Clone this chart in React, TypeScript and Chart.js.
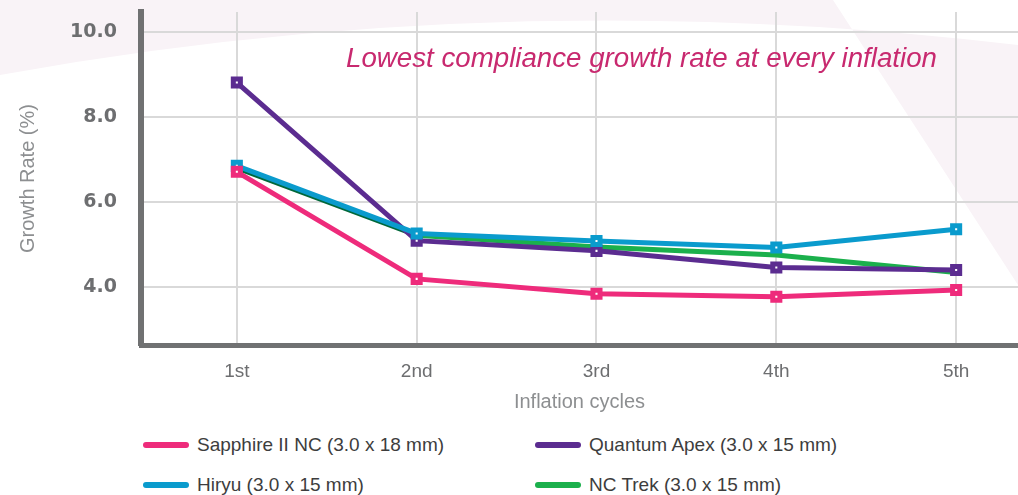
import React, { useEffect, useRef } from "react";
import { Chart, registerables } from "chart.js";

Chart.register(...registerables);

// ---- data ----
const cycles = [1, 2, 3, 4, 5];
const cycleLabels = ["1st", "2nd", "3rd", "4th", "5th"];
const yTickValues = [4, 6, 8, 10];
const yTickLabels = ["4.0", "6.0", "8.0", "10.0"];

const sapphire = [6.71, 4.19, 3.84, 3.77, 3.93];
const quantumApex = [8.81, 5.09, 4.85, 4.46, 4.4];
const hiryu = [6.85, 5.26, 5.08, 4.93, 5.36];
const ncTrek = [6.8, 5.22, 4.94, 4.75, 4.34];

const seriesNames = [
  "Sapphire II NC (3.0 x 18 mm)",
  "Quantum Apex (3.0 x 15 mm)",
  "Hiryu (3.0 x 15 mm)",
  "NC Trek (3.0 x 15 mm)",
];

const annotationText = "Lowest compliance growth rate at every inflation";
const xTitle = "Inflation cycles";
const yTitle = "Growth Rate (%)";

// ---- styles ----
const PINK = "#ee2b7b";
const PURPLE = "#5b2c90";
const BLUE = "#0a9bcd";
const GREEN = "#1bb04c";
const GREEN_DARK = "#00683a";
const AXIS = "#707172";
const TICK = "#6d6e70";
const TITLE = "#8d8f91";
const GRID = "#d9d9d9";
const SANS = '"Liberation Sans", Arial, sans-serif';

const W = 1018;
const H = 495;
const CH = 420;

const backgroundPlugin = {
  id: "bgShapes",
  beforeDraw(chart: any) {
    const ctx = chart.ctx;
    ctx.save();
    ctx.fillStyle = "#f9f3f7";
    ctx.beginPath();
    ctx.moveTo(0, 0);
    ctx.lineTo(0, 75);
    ctx.quadraticCurveTo(500, -16, 1018, 45);
    ctx.lineTo(1018, 0);
    ctx.closePath();
    ctx.moveTo(833, 0);
    ctx.lineTo(1018, 0);
    ctx.lineTo(1018, 285);
    ctx.closePath();
    ctx.fill("evenodd");
    ctx.restore();
  },
};

const annotationPlugin = {
  id: "annotationText",
  afterDraw(chart: any) {
    const ctx = chart.ctx;
    ctx.save();
    ctx.font = `italic 27.7px ${SANS}`;
    ctx.fillStyle = "#c8296f";
    ctx.textAlign = "right";
    ctx.textBaseline = "alphabetic";
    ctx.fillText(annotationText, 937, 67);
    ctx.restore();
  },
};

function pts(values: number[]) {
  return values.map((v, i) => ({ x: cycles[i], y: v }));
}

const markerStyle = (color: string) => ({
  borderColor: color,
  backgroundColor: color,
  borderWidth: 5,
  pointStyle: "rect" as const,
  pointRadius: 5,
  pointBorderWidth: 5,
  pointBackgroundColor: "#ffffff",
  pointBorderColor: color,
  tension: 0,
});

const zeroPadding = (s: any) => {
  s.paddingTop = 0;
  s.paddingBottom = 0;
  s.paddingLeft = 0;
  s.paddingRight = 0;
};

export default function App() {
  const canvasRef = useRef<HTMLCanvasElement | null>(null);

  useEffect(() => {
    document.body.style.margin = "0";
    const canvas = canvasRef.current;
    if (!canvas) return;
    const chart = new Chart(canvas, {
      type: "line",
      data: {
        datasets: [
          { label: seriesNames[0], data: pts(sapphire), order: 0, ...markerStyle(PINK) },
          { label: seriesNames[1], data: pts(quantumApex), order: 2, ...markerStyle(PURPLE) },
          { label: seriesNames[2], data: pts(hiryu), order: 1, ...markerStyle(BLUE) },
          {
            label: seriesNames[3],
            data: pts(ncTrek),
            order: 3,
            borderColor: GREEN,
            backgroundColor: GREEN,
            borderWidth: 5,
            pointRadius: 0,
            tension: 0,
            segment: {
              borderColor: (c: any) => (c.p0DataIndex === 0 ? GREEN_DARK : GREEN),
            },
          },
        ],
      },
      options: {
        responsive: false,
        animation: false,
        layout: { autoPadding: false, padding: { left: 8, top: 12, right: 0, bottom: 0 } },
        plugins: {
          legend: { display: false },
          tooltip: { enabled: false },
        },
        scales: {
          x: {
            type: "linear",
            min: 0.467,
            max: 5.344,
            afterBuildTicks: (s: any) => {
              s.ticks = cycles.map((v) => ({ value: v }));
            },
            afterFit: (s: any) => {
              zeroPadding(s);
              s.height = 75;
            },
            ticks: {
              callback: (_v: any, i: number) => cycleLabels[i],
              font: { family: SANS, size: 19 },
              color: TICK,
              padding: 15,
              maxRotation: 0,
              autoSkip: false,
            },
            grid: { color: GRID, lineWidth: 2, drawTicks: false },
            border: { display: true, color: AXIS, width: 5 },
            title: {
              display: true,
              text: xTitle,
              font: { family: SANS, size: 20 },
              color: TITLE,
              padding: { top: 7, bottom: 6 },
            },
          },
          y: {
            type: "linear",
            min: 2.635,
            max: 10.47,
            afterBuildTicks: (s: any) => {
              s.ticks = yTickValues.map((v) => ({ value: v }));
            },
            afterFit: (s: any) => {
              zeroPadding(s);
              s.width = 133;
            },
            ticks: {
              callback: (_v: any, i: number) => yTickLabels[i],
              font: { family: '"DejaVu Sans", sans-serif', size: 19, weight: "bold" },
              color: TICK,
              padding: 24,
            },
            grid: { color: GRID, lineWidth: 2, drawTicks: false },
            border: { display: true, color: AXIS, width: 6 },
            title: {
              display: true,
              text: yTitle,
              font: { family: SANS, size: 20 },
              color: TITLE,
              padding: { top: 8, bottom: 30 },
            },
          },
        },
      } as any,
      plugins: [backgroundPlugin, annotationPlugin],
    });
    return () => chart.destroy();
  }, []);

  const legendItems = [
    { name: seriesNames[0], color: PINK, x: 143, y: 445 },
    { name: seriesNames[1], color: PURPLE, x: 535, y: 445 },
    { name: seriesNames[2], color: BLUE, x: 143, y: 485 },
    { name: seriesNames[3], color: GREEN, x: 535, y: 485 },
  ];

  return (
    <div style={{ position: "relative", width: W, height: H, background: "#ffffff", overflow: "hidden" }}>
      <canvas ref={canvasRef} width={W} height={CH} style={{ display: "block", width: W, height: CH }} />
      {legendItems.map((it) => (
        <div
          key={it.name}
          style={{
            position: "absolute",
            left: it.x,
            top: it.y - 12,
            height: 24,
            display: "flex",
            alignItems: "center",
            fontFamily: SANS,
            fontSize: 19,
            color: "#3d3d3d",
            whiteSpace: "nowrap",
          }}
        >
          <span
            style={{
              display: "inline-block",
              width: 46,
              height: 6,
              borderRadius: 3,
              background: it.color,
              marginRight: 8,
            }}
          />
          <span>{it.name}</span>
        </div>
      ))}
    </div>
  );
}
